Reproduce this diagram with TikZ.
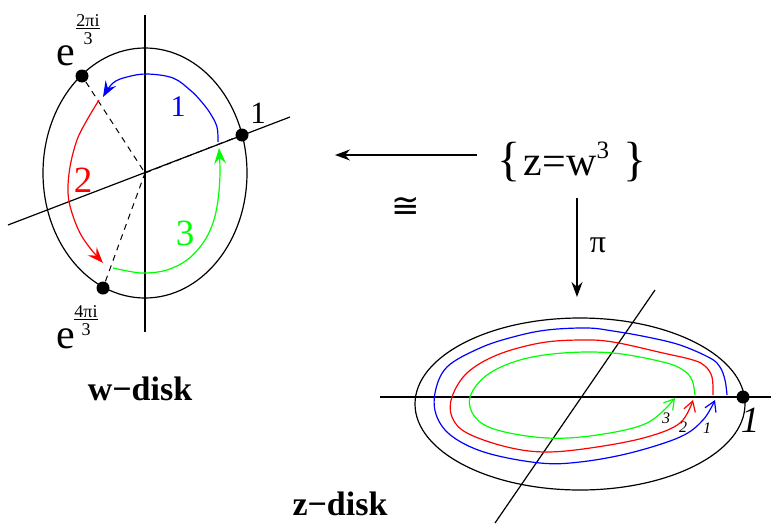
\documentclass[tikz,border=0pt]{standalone}
\usepackage{fontspec}
\setmainfont{Liberation Serif}
\newfontfamily\symfnt{DejaVu Sans}
\usetikzlibrary{arrows.meta}
\begin{document}
\begin{tikzpicture}[x=1pt,y=-1pt,line width=1.2pt,
  fs/.style={font=\fontsize{#1}{#1}\selectfont},
  lbl/.style={inner sep=0pt},
  wdot/.style={circle,fill=black,inner sep=0pt,minimum size=13pt},
  warrow/.style={-{Stealth[length=16pt,width=12pt,inset=6pt]}},
  zarrow/.style={-{Straight Barb[length=10pt,width=12pt]}},
  maparrow/.style={-{Stealth[length=15pt,width=11pt,inset=5pt]}},
  dsh/.style={dash pattern=on 6pt off 5pt,line width=1pt}
]
\useasboundingbox (0,0) rectangle (771,525);

% ---------- w-disk ----------
\coordinate (wc) at (145,173);
\draw (wc) ellipse [x radius=102pt, y radius=125pt];
\coordinate (wvt) at (145,15);
\coordinate (wvb) at (145,332);
\draw (wvt) -- (wvb);
\coordinate (wsl) at (8,225);
\coordinate (wsr) at (290,117);
\draw (wsl) -- (wsr);
\node[wdot] (w1) at (242,135) {};
\node[wdot] (w2) at (82,76) {};
\node[wdot] (w3) at (103,288) {};
\draw[dsh] (w2) -- (wc);
\draw[dsh] (w3) -- (wc);
\draw[dsh,yshift=-2pt] (wc) -- (w1);

\draw[blue,warrow] plot[smooth,tension=0.6] coordinates
  {(218,142) (217,127) (210,113) (200,100) (190,90) (173,78) (147,74) (127,77) (113,83) (103,97)};
\draw[red,warrow] plot[smooth,tension=0.6] coordinates
  {(99,100) (87,120) (77,140) (70,167) (68,193) (72,213) (80,233) (90,248) (103,263)};
\draw[green,warrow] plot[smooth,tension=0.6] coordinates
  {(113,268) (133,272) (147,273) (167,270) (187,260) (203,243) (213,223) (218,200) (220,173) (219,148)};

\node[lbl,fs=31] (l1) at (258,113) {1};
\node[lbl,fs=30,text=blue] (lb) at (178,107) {1};
\node[lbl,fs=37,text=red] (lr) at (83,180) {2};
\node[lbl,fs=37,text=green] (lg) at (185,233) {3};
\node[lbl,fs=42] (e2) at (66,56) {e};
\node[lbl,align=center,font=\fontsize{18}{18}\selectfont] (f2) at (88,30) {\underline{2πi}\\3};
\node[lbl,fs=42] (e4) at (66,339) {e};
\node[lbl,align=center,font=\fontsize{18}{18}\selectfont] (f4) at (86,321) {\underline{4πi}\\3};
\node[lbl,font={\fontsize{34}{34}\selectfont\bfseries}] (wlab) at (140,389) {w−disk};

% ---------- maps ----------
\node[lbl,fs=42] (set) at (572,162) {{\fontsize{48}{48}\selectfont\{}\hspace{3pt}z=w\raisebox{17pt}{\fontsize{25}{25}\selectfont 3}\hspace{14pt}{\fontsize{48}{48}\selectfont\}}};
\coordinate (ha) at (477,155);
\coordinate (hb) at (335,155);
\draw[maparrow] (ha) -- (hb);
\node[lbl,font={\fontsize{34}{34}\selectfont\symfnt}] (iso) at (406,207) {≅};
\coordinate (va) at (577,198);
\coordinate (vb) at (577,297);
\draw[maparrow] (va) -- (vb);
\node[lbl,fs=32] (pi) at (598,245) {π};

% ---------- z-disk ----------
\coordinate (zc) at (580,404);
\draw (zc) ellipse [x radius=165pt, y radius=86pt];
\coordinate (zhl) at (380,397);
\coordinate (zhr) at (771,397);
\draw (zhl) -- (zhr);
\coordinate (zst) at (655,290);
\coordinate (zsb) at (495,523);
\draw (zst) -- (zsb);
\node[wdot] (z1) at (743,397) {};

\draw[blue,zarrow] plot[smooth,tension=0.6] coordinates
  {(727,395) (725,380) (720,367) (710,358) (680,345) (647,337) (613,331) (587,328) (547,330) (513,337) (480,348) (447,367) (435,393) (437,417) (453,437) (487,453) (540,463) (580,462) (630,453) (680,437) (703,420) (715,400)};
\draw[red,zarrow] plot[smooth,tension=0.6] coordinates
  {(713,395) (712,377) (705,366) (693,360) (663,353) (613,342) (580,340) (540,343) (497,355) (467,373) (452,397) (452,417) (467,433) (507,447) (547,452) (597,447) (647,437) (680,423) (693,400)};
\draw[green,zarrow] plot[smooth,tension=0.6] coordinates
  {(695,395) (692,380) (683,370) (663,362) (613,353) (563,353) (520,360) (487,375) (470,397) (475,417) (497,430) (547,438) (597,435) (647,423) (675,398)};

\node[lbl,font=\fontsize{16}{16}\selectfont\itshape] (zl3) at (666,418) {3};
\node[lbl,font=\fontsize{16}{16}\selectfont\itshape] (zl2) at (683,427) {2};
\node[lbl,font=\fontsize{16}{16}\selectfont\itshape] (zl1) at (707,428) {1};
\node[lbl,font=\fontsize{37}{37}\selectfont\itshape] (zone) at (750,420) {1};
\node[lbl,font={\fontsize{34}{34}\selectfont\bfseries}] (zlab) at (340,504) {z−disk};
\end{tikzpicture}
\end{document}
